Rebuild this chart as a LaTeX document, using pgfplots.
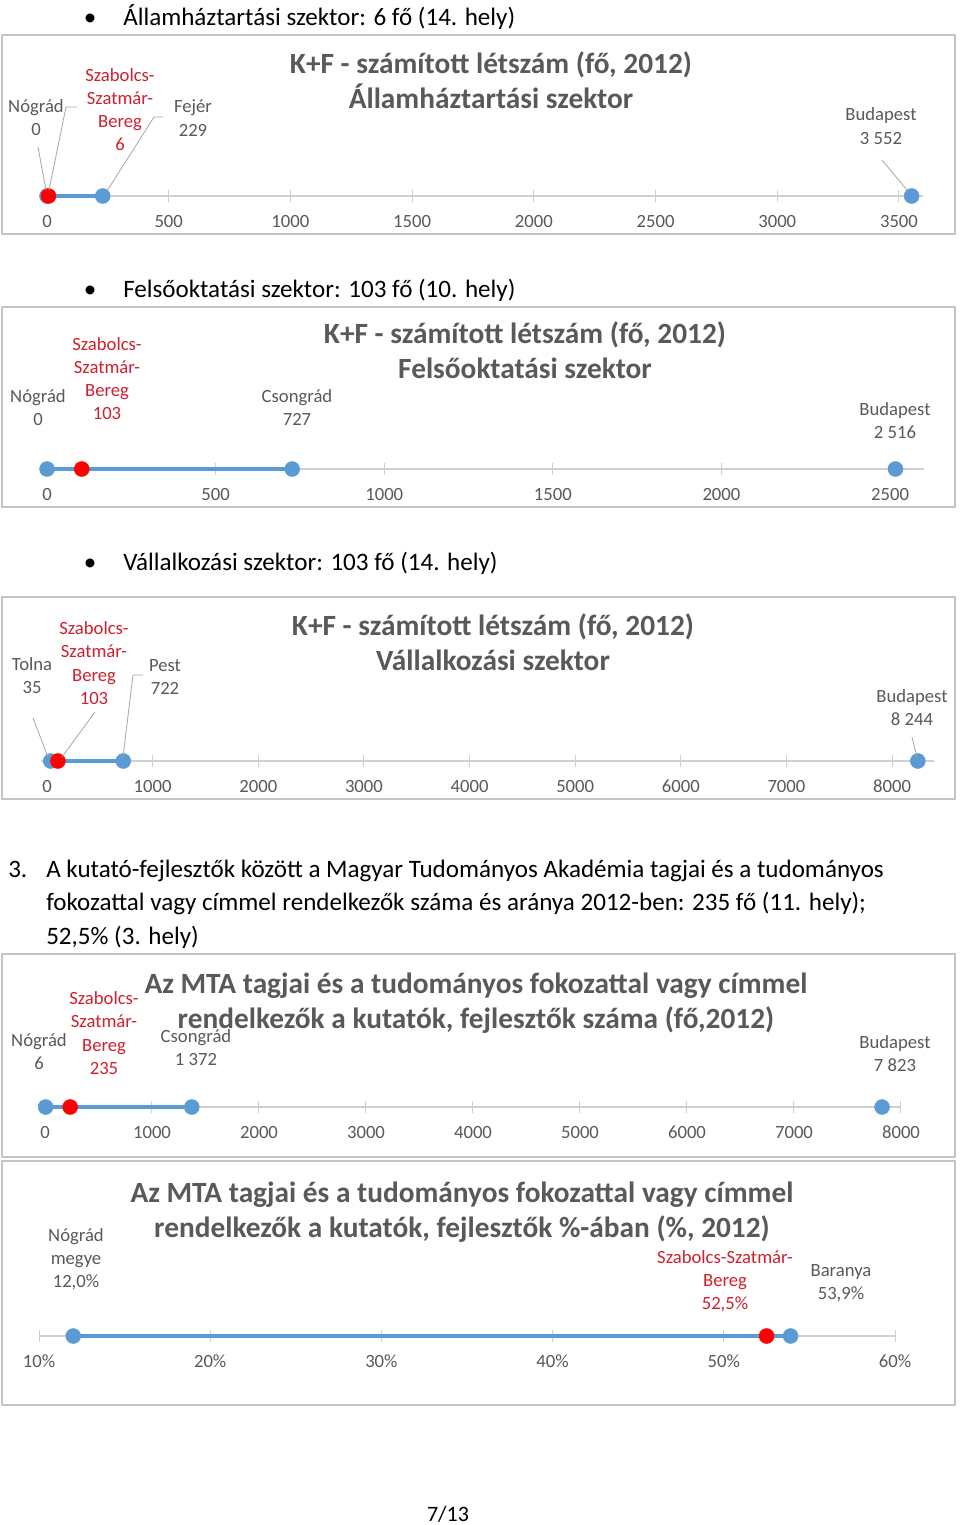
\documentclass[border=0pt]{standalone}
\usepackage{fontspec}
\setmainfont{Carlito}
\usepackage{pgfplots}
\pgfplotsset{compat=1.18}

\definecolor{cblue}{HTML}{5B9BD5}
\definecolor{cred}{HTML}{FF0000}
\definecolor{lred}{HTML}{D0202E}
\definecolor{tgray}{HTML}{595959}
\definecolor{lgray}{HTML}{D0D0D0}
\definecolor{fgray}{HTML}{C4C4C4}
\definecolor{leader}{HTML}{A6A6A6}

\newcommand\lab{\fontsize{14}{17}\selectfont}
\newcommand\ttl{\bfseries\fontsize{22}{26}\selectfont}
\newcommand\body{\fontsize{18.8}{22}\selectfont}

\pgfplotsset{
  numline/.style={
    scale only axis, height=2pt, ymin=-1, ymax=1,
    axis x line=middle, axis y line=none, ytick=\empty,
    hide obscured x ticks=false,
    x axis line style={-, draw=lgray, line width=1pt},
    tick align=center, major tick length=9pt,
    xtick style={draw=lgray, line width=0.75pt},
    xticklabel style={font=\lab, text=tgray, anchor=center, yshift=-16.5pt,
      text height=1.5ex, text depth=.25ex, inner sep=0pt},
    clip=false, anchor=west,
  },
  segline/.style={cblue, line width=3.4pt},
  bdot/.style={only marks, mark=*, mark size=5.6pt, cblue},
  rdot/.style={only marks, mark=*, mark size=5.6pt, cred},
}

\tikzset{
  lb/.style={font=\lab, text=tgray, inner sep=0pt, text height=1.5ex, text depth=.25ex, yshift=-3pt},
  lr/.style={lb, text=lred},
  tt/.style={font=\ttl, text=tgray, inner sep=0pt, text height=1.5ex, text depth=.25ex, yshift=-5pt},
  bd/.style={font=\body, inner sep=0pt, anchor=west, text height=1.5ex, text depth=.25ex, yshift=-3.75pt},
  ld/.style={draw=leader, line width=0.6pt},
  frm/.style={draw=fgray, line width=1.5pt},
}

\begin{document}
\begin{tikzpicture}[x=0.75pt, y=-0.75pt]
\fill[white] (0,0) rectangle (960,1525);

% bullet 1
\node[bd, anchor=center] at (90,17) {•};
\node[bd] at (123,17) {Államháztartási szektor: 6 fő (14. hely)};
\draw[frm] (2,35) rectangle (955,234);
\node[tt] at (491,63) {K+F - számított létszám (fő, 2012)};
\node[tt] at (491,98) {Államháztartási szektor};
\begin{axis}[numline, at={({39.7*0.75pt},{-196*0.75pt})}, width=662.7pt, xmin=-30, xmax=3600,
  xtick={0,500,1000,1500,2000,2500,3000,3500},
  xticklabels={0,500,1000,1500,2000,2500,3000,3500}]
\addplot[segline] coordinates {(0,0) (229,0)};
\addplot[bdot] coordinates {(0,0) (229,0) (3552,0)};
\addplot[rdot] coordinates {(6,0)};
\end{axis}
\node[lb] at (36,105) {Nógrád};
\node[lb] at (36,128) {0};
\node[lr] at (120,74) {Szabolcs-};
\node[lr] at (120,97) {Szatmár-};
\node[lr] at (120,120) {Bereg};
\node[lr] at (120,143) {6};
\node[lb] at (193,105) {Fejér};
\node[lb] at (193,129) {229};
\node[lb] at (881,113) {Budapest};
\node[lb] at (881,137) {3 552};
\draw[ld] (38,147) -- (46,190);
\draw[ld] (77,107) -- (66,107) -- (49,190);
\draw[ld] (163,117) -- (154,117) -- (107,191);
\draw[ld] (882,160) -- (907,190);

% bullet 2
\node[bd, anchor=center] at (90,289) {•};
\node[bd] at (123,289) {Felsőoktatási szektor: 103 fő (10. hely)};
\draw[frm] (2,307) rectangle (955,507);
\node[tt] at (525,333) {K+F - számított létszám (fő, 2012)};
\node[tt] at (525,368) {Felsőoktatási szektor};
\begin{axis}[numline, at={({40.3*0.75pt},{-469*0.75pt})}, width=662.6pt, xmin=-20, xmax=2600,
  xtick={0,500,1000,1500,2000,2500},
  xticklabels={0,500,1000,1500,2000,2500}]
\addplot[segline] coordinates {(0,0) (727,0)};
\addplot[bdot] coordinates {(0,0) (727,0) (2516,0)};
\addplot[rdot] coordinates {(103,0)};
\end{axis}
\node[lb] at (38,395) {Nógrád};
\node[lb] at (38,418) {0};
\node[lr] at (107,343) {Szabolcs-};
\node[lr] at (107,366) {Szatmár-};
\node[lr] at (107,389) {Bereg};
\node[lr] at (107,412) {103};
\node[lb] at (297,395) {Csongrád};
\node[lb] at (297,418) {727};
\node[lb] at (895,408) {Budapest};
\node[lb] at (895,431) {2 516};

% bullet 3
\node[bd, anchor=center] at (90,562) {•};
\node[bd] at (123,562) {Vállalkozási szektor: 103 fő (14. hely)};
\draw[frm] (2,597) rectangle (955,799);
\node[tt] at (493,625) {K+F - számított létszám (fő, 2012)};
\node[tt] at (493,660) {Vállalkozási szektor};
\begin{axis}[numline, at={({40.7*0.75pt},{-761*0.75pt})}, width=670.2pt, xmin=-60, xmax=8400,
  xtick={0,1000,2000,3000,4000,5000,6000,7000,8000},
  xticklabels={0,1000,2000,3000,4000,5000,6000,7000,8000}]
\addplot[segline] coordinates {(35,0) (722,0)};
\addplot[bdot] coordinates {(35,0) (722,0) (8244,0)};
\addplot[rdot] coordinates {(103,0)};
\end{axis}
\node[lb] at (32,663) {Tolna};
\node[lb] at (32,686) {35};
\node[lr] at (94,627) {Szabolcs-};
\node[lr] at (94,650) {Szatmár-};
\node[lr] at (94,674) {Bereg};
\node[lr] at (94,697) {103};
\node[lb] at (165,664) {Pest};
\node[lb] at (165,687) {722};
\node[lb] at (912,695) {Budapest};
\node[lb] at (912,718) {8 244};
\draw[ld] (33,718) -- (48,757);
\draw[ld] (95,712) -- (62,757);
\draw[ld] (143,675) -- (133,675) -- (123,757);
\draw[ld] (912,737) -- (917,757);

% paragraph 3
\node[bd, anchor=west] at (8,869) {3.};
\node[bd] at (46,869) {A kutató-fejlesztők között a Magyar Tudományos Akadémia tagjai és a tudományos};
\node[bd] at (46,902) {fokozattal vagy címmel rendelkezők száma és aránya 2012-ben: 235 fő (11. hely);};
\node[bd] at (46,936) {52,5\% (3. hely)};

% chart 4
\draw[frm] (2,954) rectangle (955,1157);
\node[tt] at (476,983) {Az MTA tagjai és a tudományos fokozattal vagy címmel};
\node[tt] at (476,1018) {rendelkezők a kutatók, fejlesztők száma (fő,2012)};
\begin{axis}[numline, at={({45*0.75pt},{-1107*0.75pt})}, width=642pt, xmin=0, xmax=8000,
  xtick={0,1000,2000,3000,4000,5000,6000,7000,8000},
  xticklabels={0,1000,2000,3000,4000,5000,6000,7000,8000}]
\addplot[segline] coordinates {(6,0) (1372,0)};
\addplot[bdot] coordinates {(6,0) (1372,0) (7823,0)};
\addplot[rdot] coordinates {(235,0)};
\end{axis}
\node[lb] at (39,1039) {Nógrád};
\node[lb] at (39,1062) {6};
\node[lr] at (104,997) {Szabolcs-};
\node[lr] at (104,1020) {Szatmár-};
\node[lr] at (104,1044) {Bereg};
\node[lr] at (104,1067) {235};
\node[lb] at (196,1035) {Csongrád};
\node[lb] at (196,1058) {1 372};
\node[lb] at (895,1041) {Budapest};
\node[lb] at (895,1064) {7 823};

% chart 5
\draw[frm] (2,1161) rectangle (955,1405);
\node[tt] at (462,1192) {Az MTA tagjai és a tudományos fokozattal vagy címmel};
\node[tt] at (462,1227) {rendelkezők a kutatók, fejlesztők \%-ában (\%, 2012)};
\begin{axis}[numline, at={({39*0.75pt},{-1336*0.75pt})}, width=642pt, xmin=10, xmax=60,
  xtick={10,20,30,40,50,60},
  xticklabels={10\%,20\%,30\%,40\%,50\%,60\%}]
\addplot[segline] coordinates {(12.0,0) (53.9,0)};
\addplot[bdot] coordinates {(12.0,0) (53.9,0)};
\addplot[rdot] coordinates {(52.5,0)};
\end{axis}
\node[lb] at (76,1234) {Nógrád};
\node[lb] at (76,1257) {megye};
\node[lb] at (76,1280) {12,0\%};
\node[lr] at (725,1256) {Szabolcs-Szatmár-};
\node[lr] at (725,1279) {Bereg};
\node[lr] at (725,1302) {52,5\%};
\node[lb] at (841,1269) {Baranya};
\node[lb] at (841,1292) {53,9\%};

% footer
\node[bd, anchor=center, font=\fontsize{16.5}{20}\selectfont] at (448,1513) {7/13};
\end{tikzpicture}
\end{document}
